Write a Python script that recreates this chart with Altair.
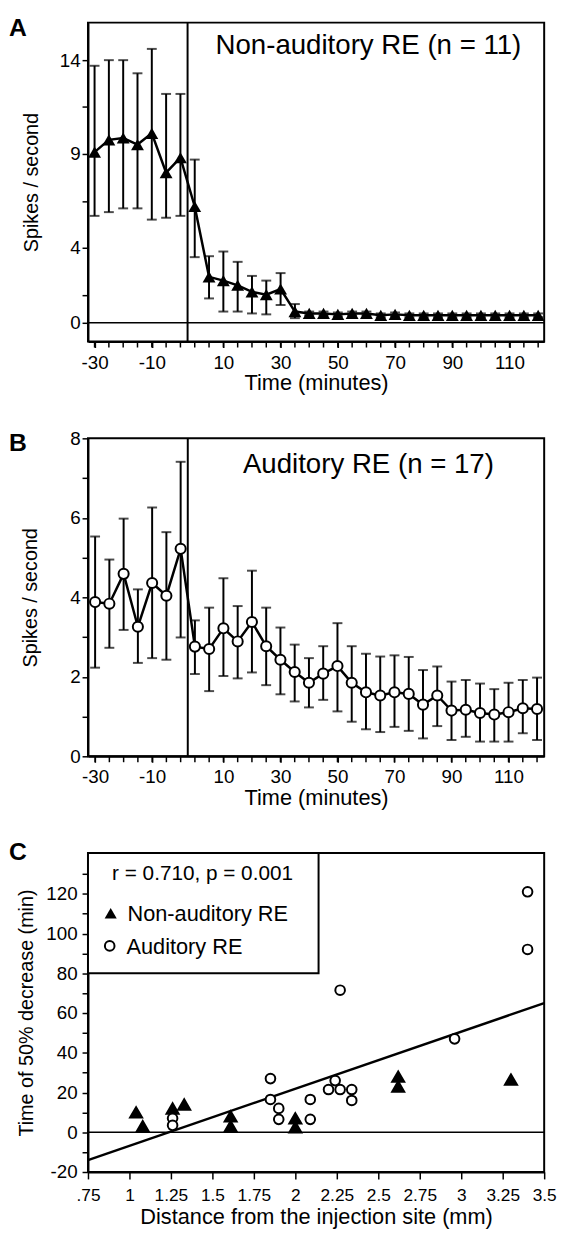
import altair as alt
import pandas as pd

FONT = "Liberation Sans"
GAP = 5  # one empty 5-min slot on the time axis at the injection

# ---------------- Panel A : Non-auditory RE (n = 11) ----------------
a_pre_time = [-30, -25, -20, -15, -10, -5, 0]
a_pre_mean = [9.1, 9.75, 9.85, 9.5, 10.1, 8.0, 8.8]
a_pre_hi = [13.7, 14.0, 14.0, 13.3, 14.6, 12.2, 12.2]
a_pre_lo = [5.7, 5.9, 6.1, 6.1, 5.5, 5.6, 5.7]

a_post_time = [0, 5, 10, 15, 20, 25, 30, 35, 40, 45, 50, 55, 60, 65, 70, 75,
               80, 85, 90, 95, 100, 105, 110, 115, 120]
a_post_mean = [6.2, 2.45, 2.25, 2.0, 1.65, 1.5, 1.8, 0.6, 0.5, 0.5, 0.45, 0.5,
               0.5, 0.4, 0.45, 0.4, 0.4, 0.4, 0.4, 0.4, 0.4, 0.4, 0.4, 0.4, 0.4]
a_post_hi = [8.7, 3.55, 3.8, 3.25, 2.5, 2.25, 2.65, 1.0, 0.6, 0.6, 0.55, 0.6,
             0.6, 0.5, 0.55, 0.5, 0.5, 0.5, 0.5, 0.5, 0.5, 0.5, 0.5, 0.5, 0.5]
a_post_lo = [3.5, 1.3, 0.6, 0.6, 0.5, 0.45, 0.95, 0.25, 0.4, 0.4, 0.35, 0.4,
             0.4, 0.3, 0.35, 0.3, 0.3, 0.3, 0.3, 0.3, 0.3, 0.3, 0.3, 0.3, 0.3]

# ---------------- Panel B : Auditory RE (n = 17) ----------------
b_pre_time = [-30, -25, -20, -15, -10, -5, 0]
b_pre_mean = [3.88, 3.84, 4.59, 3.26, 4.36, 4.04, 5.22]
b_pre_hi = [5.53, 4.95, 5.98, 4.2, 6.26, 5.64, 7.41]
b_pre_lo = [2.23, 2.73, 3.18, 2.35, 2.47, 2.43, 2.99]

b_post_time = [0, 5, 10, 15, 20, 25, 30, 35, 40, 45, 50, 55, 60, 65, 70, 75,
               80, 85, 90, 95, 100, 105, 110, 115, 120]
b_post_mean = [2.76, 2.70, 3.22, 2.89, 3.38, 2.77, 2.43, 2.12, 1.85, 2.08, 2.27,
               1.85, 1.61, 1.53, 1.61, 1.57, 1.30, 1.53, 1.15, 1.17, 1.09, 1.05,
               1.11, 1.21, 1.19]
b_post_hi = [3.42, 3.74, 4.48, 3.78, 4.67, 3.74, 3.24, 2.81, 2.47, 2.77, 3.35,
             2.77, 2.58, 2.51, 2.54, 2.50, 2.17, 2.26, 1.88, 1.92, 1.83, 1.69,
             1.85, 1.92, 1.98]
b_post_lo = [2.07, 1.64, 2.02, 1.96, 2.11, 1.79, 1.56, 1.38, 1.23, 1.42, 1.13,
             0.87, 0.68, 0.61, 0.74, 0.64, 0.45, 0.76, 0.41, 0.49, 0.37, 0.37,
             0.37, 0.58, 0.41]

x_label_pre = [-30, -10]
x_label_post = [10, 30, 50, 70, 90, 110]

# ---------------- Panel C : distance vs time of 50% decrease ----------------
groups = ["Non-auditory RE", "Auditory RE"]
c_non_dist = [1.04, 1.08, 1.26, 1.33, 1.61, 1.61, 2.0, 2.0, 2.62, 2.62, 3.30]
c_non_time = [10, 3, 12, 14, 8, 3, 7, 2.5, 28, 23, 26.5]
c_aud_dist = [1.26, 1.26, 1.85, 1.85, 1.90, 1.90, 2.09, 2.09, 2.20, 2.24, 2.27,
              2.34, 2.34, 2.27, 2.96, 3.40, 3.40]
c_aud_time = [7, 3.5, 27, 16.5, 12, 6.5, 16.5, 6.5, 21.5, 26, 21.5, 21.5, 16,
              71.5, 47, 92, 121]
reg_dist = [0.75, 3.5]
reg_time = [-14, 65]
c_x_ticks = [0.75, 1, 1.25, 1.5, 1.75, 2, 2.25, 2.5, 2.75, 3, 3.25, 3.5]
c_y_ticks = [-20, -10, 0, 10, 20, 30, 40, 50, 60, 70, 80, 90, 100, 110, 120, 130]

W = 462
TICK = 6
one = pd.DataFrame({"k": [0]})


def time_df(pre_t, pre_m, pre_h, pre_l, post_t, post_m, post_h, post_l):
    rows = []
    for t, m, h, l in zip(pre_t, pre_m, pre_h, pre_l):
        rows.append(dict(time=t, pos=t, mean=m, hi=h, lo=l))
    for t, m, h, l in zip(post_t, post_m, post_h, post_l):
        rows.append(dict(time=t, pos=t + GAP, mean=m, hi=h, lo=l))
    return pd.DataFrame(rows)


def time_panel(df, letter, letter_y, note, note_y, ydom, yticks, ylab,
               ytitle_pad, xdom, height, point_kw):
    label_positions = x_label_pre + [t + GAP for t in x_label_post]
    xaxis = alt.Axis(
        values=label_positions,
        labelExpr=f"datum.value > 0 ? '' + (datum.value - {GAP}) : '' + datum.value",
        title="Time (minutes)", titleFontSize=22, tickSize=TICK, labelPadding=6,
        titlePadding=1, labelFlush=False, labelOverlap=False)
    ylist = "[" + ",".join(str(v) for v in ylab) + "]"
    yaxis = alt.Axis(
        values=yticks,
        labelExpr=f"indexof({ylist}, datum.value) >= 0 ? '' + datum.value : ''",
        title="Spikes / second", titleFontSize=20, tickSize=TICK, labelPadding=2,
        titlePadding=ytitle_pad, labelOverlap=False)
    xs = alt.Scale(domain=xdom, nice=False, zero=False)
    ys = alt.Scale(domain=ydom, nice=False, zero=False)
    X = alt.X("pos:Q", scale=xs, axis=xaxis)

    def Y(f):
        return alt.Y(f"{f}:Q", scale=ys, axis=yaxis)

    base = alt.Chart(df)
    o = alt.Chart(one)
    zero = o.mark_rule(color="black", strokeWidth=1.5).encode(y=alt.datum(0))
    inj = o.mark_rule(color="black", strokeWidth=2).encode(
        x=alt.X(datum=GAP / 2, scale=xs, axis=xaxis))
    # a small tick under the axis at every sampling time
    minor = base.mark_rule(color="black", strokeWidth=1.5).encode(
        x=X, y=alt.value(height), y2=alt.value(height + TICK))
    bars = base.mark_rule(color="black", strokeWidth=2).encode(x=X, y=Y("lo"), y2="hi:Q")
    cap_hi = base.mark_tick(color="black", orient="horizontal", size=10,
                            thickness=2).encode(x=X, y=Y("hi"))
    cap_lo = base.mark_tick(color="black", orient="horizontal", size=10,
                            thickness=2).encode(x=X, y=Y("lo"))
    line = base.mark_line(color="black", strokeWidth=2.5).encode(x=X, y=Y("mean"))
    pts = base.mark_point(**point_kw).encode(x=X, y=Y("mean"))
    txt = o.mark_text(fontSize=28, align="center", baseline="alphabetic").encode(
        x=alt.value(284), y=alt.value(note_y), text=alt.value(note))
    let = o.mark_text(fontSize=25, fontWeight="bold", align="left",
                      baseline="alphabetic").encode(
        x=alt.value(-80), y=alt.value(letter_y), text=alt.value(letter))
    return alt.layer(zero, inj, minor, bars, cap_hi, cap_lo, line, pts, txt,
                     let).properties(width=W, height=height)


dfa = time_df(a_pre_time, a_pre_mean, a_pre_hi, a_pre_lo,
              a_post_time, a_post_mean, a_post_hi, a_post_lo)
dfb = time_df(b_pre_time, b_pre_mean, b_pre_hi, b_pre_lo,
              b_post_time, b_post_mean, b_post_hi, b_post_lo)

panel_a = time_panel(
    dfa, "A", 14, "Non-auditory RE (n = 11)", 32, [-1, 16],
    [0, 1.5, 4, 6.5, 9, 11.5, 14], [0, 4, 9, 14], 18, [-32.3, 127.1], 323,
    dict(shape="triangle-up", filled=True, color="black", size=170, opacity=1))

panel_b = time_panel(
    dfb, "B", 13, "Auditory RE (n = 17)", 35, [0, 8],
    [0, 1, 2, 3, 4, 5, 6, 7, 8], [0, 2, 4, 6, 8], 30, [-32.5, 127.5], 322,
    dict(shape="circle", filled=True, fill="white", stroke="black", strokeWidth=2,
         size=105, opacity=1))

# ---------------- Panel C ----------------
c_rows = ([dict(group=groups[0], dist=d, t50=t) for d, t in zip(c_non_dist, c_non_time)] +
          [dict(group=groups[1], dist=d, t50=t) for d, t in zip(c_aud_dist, c_aud_time)])
dfc = pd.DataFrame(c_rows)
dfr = pd.DataFrame({"dist": reg_dist, "t50": reg_time})

cx_axis = alt.Axis(values=c_x_ticks,
                   labelExpr="datum.value < 0.8 ? '.75' : format(datum.value, '~g')",
                   title="Distance from the injection site (mm)", titleFontSize=22,
                   tickSize=7, labelPadding=8, titlePadding=3, labelFlush=False,
                   labelOverlap=False, labelFontSize=17.5)
cy_axis = alt.Axis(values=c_y_ticks,
                   labelExpr="datum.value % 20 == 0 ? '' + datum.value : ''",
                   title="Time of 50% decrease (min)", titleFontSize=20, tickSize=6,
                   labelPadding=5, titlePadding=9, labelOverlap=False)
cxs = alt.Scale(domain=[0.75, 3.5], nice=False, zero=False)
cys = alt.Scale(domain=[-20, 140.5], nice=False, zero=False)
CX = alt.X("dist:Q", scale=cxs, axis=cx_axis)
CY = alt.Y("t50:Q", scale=cys, axis=cy_axis)

oc = alt.Chart(one)
box = oc.mark_rect(fill="white", stroke="black", strokeWidth=2).encode(
    x=alt.X(datum=0.75, scale=cxs, axis=cx_axis), x2=alt.datum(2.14),
    y=alt.Y(datum=80, scale=cys, axis=cy_axis), y2=alt.datum(140.5))
czero = oc.mark_rule(color="black", strokeWidth=1.5).encode(
    y=alt.Y(datum=0, scale=cys, axis=cy_axis))
reg = alt.Chart(dfr).mark_line(color="black", strokeWidth=2.5).encode(x=CX, y=CY)
cpts = alt.Chart(dfc).mark_point(filled=True, stroke="black", strokeWidth=2,
                                 opacity=1).encode(
    x=CX, y=CY,
    shape=alt.Shape("group:N", scale=alt.Scale(domain=groups,
                                                range=["triangle-up", "circle"]),
                    legend=None),
    fill=alt.Fill("group:N", scale=alt.Scale(domain=groups, range=["black", "white"]),
                  legend=None),
    size=alt.Size("group:O", scale=alt.Scale(domain=groups, range=[150, 95]),
                  legend=None),
)
rtxt = oc.mark_text(fontSize=21, align="center", baseline="alphabetic").encode(
    x=alt.value(116), y=alt.value(27), text=alt.value("r = 0.710, p = 0.001"))
# legend inside the box
leg_tri = oc.mark_point(shape="triangle-up", filled=True, color="black", size=150,
                        opacity=1).encode(x=alt.value(23), y=alt.value(61))
leg_cir = oc.mark_point(shape="circle", filled=True, fill="white", stroke="black",
                        strokeWidth=2, size=95, opacity=1).encode(
    x=alt.value(22), y=alt.value(94))
leg_t1 = oc.mark_text(fontSize=22, align="left", baseline="alphabetic").encode(
    x=alt.value(40), y=alt.value(69), text=alt.value(groups[0]))
leg_t2 = oc.mark_text(fontSize=22, align="left", baseline="alphabetic").encode(
    x=alt.value(39), y=alt.value(102), text=alt.value(groups[1]))
clet = oc.mark_text(fontSize=25, fontWeight="bold", align="left",
                    baseline="alphabetic").encode(
    x=alt.value(-80), y=alt.value(7), text=alt.value("C"))

panel_c = alt.layer(box, czero, reg, cpts, rtxt, leg_tri, leg_cir, leg_t1, leg_t2,
                    clet).properties(width=W, height=323)

chart = alt.vconcat(panel_a, panel_b, panel_c, spacing=98, bounds="flush").properties(
    padding=0, background="white"
).configure(font=FONT).configure_view(
    stroke="black", strokeWidth=2
).configure_axis(
    labelFont=FONT, titleFont=FONT, labelFontSize=19, titleFontWeight="normal",
    labelColor="black", titleColor="black", tickColor="black", domainColor="black",
    domainWidth=2, tickWidth=1.5, grid=False, labelOverlap=False
).configure_text(font=FONT, color="black")

chart.save("out.html", embed_options={"renderer": "svg", "actions": False})
